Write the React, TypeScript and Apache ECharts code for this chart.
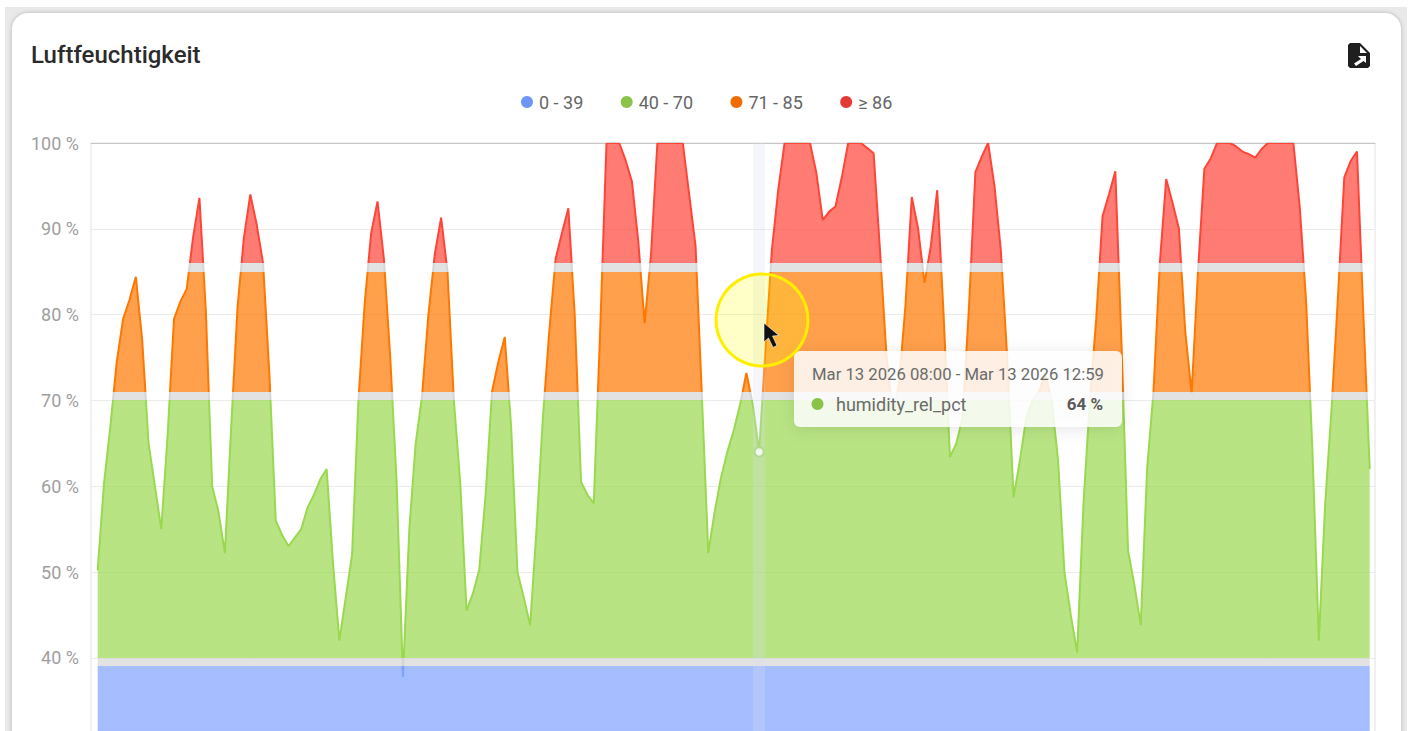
import React, { useEffect, useRef } from "react";
import * as echarts from "echarts";

const TITLE = "Luftfeuchtigkeit";
const SERIES_NAME = "humidity_rel_pct";
const START_TIME = Date.UTC(2026, 1, 19, 16);
const BUCKET_MS = 5 * 3600 * 1000;
const HOVER_INDEX = 104;

const humidity = [
  50.2, 60.4, 67, 74.5, 79.5, 81.7, 84.4, 77, 65, 60,
  55, 66, 79.5, 81.5, 83, 89, 93.6, 80.5, 60, 57,
  52.2, 67, 81, 89, 94, 90.5, 86, 73, 56, 54.3,
  53, 54, 55, 57.5, 59, 60.8, 62, 51, 42, 47,
  52, 70, 81.5, 89.5, 93.2, 86.5, 75, 60.5, 37.8, 55,
  65, 70.5, 80, 87, 91.3, 85, 70, 60.4, 45.5, 47.5,
  50.3, 59, 71, 74.5, 77.4, 67, 50, 47, 43.8, 55,
  68, 78, 86.5, 89.5, 92.4, 80, 60.5, 59, 58, 78,
  100, 100, 100, 98, 95.5, 88.5, 79, 87, 100, 100,
  100, 100, 100, 94, 88, 70.5, 52.2, 57, 61, 64,
  66.5, 69.5, 73.2, 69.5, 64, 76, 87.5, 94.5, 100, 100,
  100, 100, 100, 96.5, 91, 92, 92.6, 96, 100, 100,
  100, 99.4, 98.8, 87.5, 75.5, 68, 72, 81, 93.7, 90,
  83.7, 88, 94.5, 80, 63.4, 65, 68, 81, 96.6, 98.4,
  100, 95, 87.5, 75, 58.7, 63, 68, 70, 71, 73,
  70, 63, 50, 45, 40.6, 58, 70, 79.5, 91.5, 94,
  96.7, 76, 52.5, 48.5, 43.8, 62, 71, 86, 95.8, 93,
  90, 78, 70.8, 85, 97, 98.2, 100, 100, 100, 99.6,
  99, 98.7, 98.3, 99.3, 100, 100, 100, 100, 100, 92.5,
  81.5, 64, 42, 58, 69, 82, 96, 97.9, 99, 80,
  62,
];

const legendNames = ["0 - 39", "40 - 70", "71 - 85", "≥ 86"];
const legendColors = ["#6e94f5", "#8bc34a", "#ef6c00", "#e53935"];
const lineColors = ["#7fa2ff", "#9ad84f", "#ff7700", "#ff4438"];
const bandMin = [0, 40, 71, 86];
const bandMax = [39, 70, 85, 100];

const TOOLTIP_TITLE = "Mar 13 2026 08:00 - Mar 13 2026 12:59";
const TOOLTIP_VALUE = "64 %";

const FONT = "Roboto, sans-serif";

export default function App() {
  const ref = useRef<HTMLDivElement>(null);

  useEffect(() => {
    if (!ref.current) return;
    const chart = echarts.init(ref.current, undefined, { renderer: "svg" });
    const points = humidity.map((v, i) => [START_TIME + i * BUCKET_MS, v]);
    const hoverTime = START_TIME + HOVER_INDEX * BUCKET_MS;

    chart.setOption({
      animation: false,
      backgroundColor: "transparent",
      textStyle: { fontFamily: FONT },
      title: {
        text: TITLE,
        left: 31,
        top: 43,
        padding: 0,
        textStyle: { fontFamily: FONT, fontSize: 24, fontWeight: 500, color: "#2b2b2b" },
      },
      legend: {
        left: 521,
        top: 93,
        padding: 0,
        icon: "circle",
        itemWidth: 12,
        itemHeight: 12,
        itemGap: 37.4,
        selectedMode: false,
        data: legendNames,
        textStyle: { fontFamily: FONT, fontSize: 18, color: "#666666", padding: [0, 0, 0, 1] },
      },
      grid: {
        left: 91,
        top: 143,
        width: 1284,
        height: 600.6,
        show: true,
        borderColor: "#e2e2e2",
        borderWidth: 1,
        backgroundColor: "transparent",
      },
      xAxis: {
        type: "time",
        position: "top",
        min: START_TIME - 1.05 * BUCKET_MS,
        max: START_TIME + (humidity.length - 1 + 0.83) * BUCKET_MS,
        axisLine: { show: true, lineStyle: { color: "#c6c6c6", width: 1 } },
        axisTick: { show: false },
        axisLabel: { show: false },
        splitLine: { show: false },
      },
      yAxis: {
        type: "value",
        min: 30,
        max: 100,
        interval: 10,
        axisLine: { show: false },
        axisTick: { show: false },
        axisLabel: {
          showMinLabel: false,
          margin: 12,
          fontFamily: FONT,
          fontSize: 18,
          color: "#9e9e9e",
          formatter: (v: number) => `${v} %`,
        },
        splitLine: { show: true, lineStyle: { color: "#ebebeb", width: 1 } },
      },
      visualMap: {
        show: false,
        type: "piecewise",
        seriesIndex: 0,
        dimension: 1,
        pieces: bandMin.map((gte, i) => ({ gte, lte: bandMax[i], color: lineColors[i] })),
        outOfRange: { color: "#d6d6d6" },
      },
      series: [
        {
          name: SERIES_NAME,
          type: "line",
          data: points,
          symbol: "none",
          showSymbol: false,
          lineStyle: { width: 2 },
          areaStyle: { opacity: 0.7 },
          z: 2,
        },
        ...legendNames.map((name, i) => ({
          name,
          type: "line",
          data: [],
          itemStyle: { color: legendColors[i] },
          lineStyle: { color: legendColors[i] },
        })),
        {
          type: "line",
          data: [],
          silent: true,
          z: 3,
          markLine: {
            silent: true,
            symbol: "none",
            label: { show: false },
            lineStyle: { color: "rgba(215,222,240,0.27)", width: 12, type: "solid" },
            data: [{ xAxis: hoverTime }],
          },
        },
        {
          type: "scatter",
          data: [[hoverTime, humidity[HOVER_INDEX]]],
          symbol: "circle",
          symbolSize: 9,
          silent: true,
          z: 5,
          itemStyle: { color: "#ffffff", borderColor: "#a9d58a", borderWidth: 2 },
        },
      ],
      graphic: [
        // export icon
        { type: "polygon", z: 50, shape: { points: [[1350, 43], [1360, 43], [1370, 53], [1370, 66], [1368, 68], [1350, 68], [1348, 66], [1348, 45]] }, style: { fill: "#1f1f1f" } },
        { type: "polygon", z: 51, shape: { points: [[1360, 46], [1367, 53], [1360, 53]] }, style: { fill: "#ffffff" } },
        { type: "polygon", z: 51, shape: { points: [[1358, 56], [1366, 56], [1366, 63], [1363.5, 61], [1356, 66], [1354, 63.5], [1361, 59]] }, style: { fill: "#ffffff" } },
        // tooltip
        {
          type: "rect",
          z: 60,
          shape: { x: 794, y: 351, width: 328, height: 76, r: 6 },
          style: {
            fill: "rgba(255,255,255,0.84)",
            shadowBlur: 16,
            shadowColor: "rgba(0,0,0,0.12)",
            shadowOffsetY: 2,
          },
        },
        { type: "text", z: 61, x: 812, y: 374, style: { text: TOOLTIP_TITLE, fontFamily: FONT, fontSize: 16.7, fill: "#6b6b6b", verticalAlign: "middle" } },
        { type: "circle", z: 61, shape: { cx: 817.5, cy: 404, r: 6 }, style: { fill: legendColors[1] } },
        { type: "text", z: 61, x: 836, y: 404, style: { text: SERIES_NAME, fontFamily: FONT, fontSize: 18, fill: "#6b6b6b", verticalAlign: "middle" } },
        { type: "text", z: 61, x: 1103, y: 404, style: { text: TOOLTIP_VALUE, fontFamily: FONT, fontSize: 17, fontWeight: 700, fill: "#5a5a5a", align: "right", verticalAlign: "middle" } },
        // highlighted mouse cursor
        {
          type: "circle",
          z: 70,
          shape: { cx: 762, cy: 320, r: 46 },
          style: { fill: "rgba(255,255,0,0.22)", stroke: "#ffee00", lineWidth: 3 },
        },
        {
          type: "polygon",
          z: 71,
          shape: { points: [[764, 323], [764, 342], [768.5, 338], [773, 347.5], [777, 345.5], [772.5, 336], [779, 335.5]] },
          style: { fill: "#111111", stroke: "#ffffff", lineWidth: 0.6 },
        },
      ],
    });

    return () => chart.dispose();
  }, []);

  return (
    <div style={{ position: "absolute", left: 0, top: 0, width: 1411, height: 731, overflow: "hidden", background: "#ffffff" }}>
      <div style={{ position: "absolute", left: 5, top: 7, width: 1402, height: 800, background: "#e9e9e9" }} />
      <div style={{ position: "absolute", left: 12, top: 13, width: 1389, height: 800, background: "#ffffff", borderRadius: 16, boxShadow: "0 0 4px rgba(0,0,0,0.22)" }} />
      <div ref={ref} style={{ position: "absolute", left: 0, top: 0, width: 1411, height: 780 }} />
    </div>
  );
}
